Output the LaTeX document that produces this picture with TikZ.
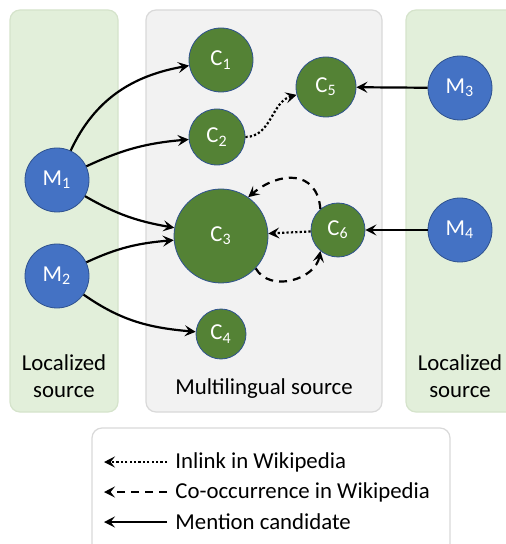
\documentclass[tikz,border=0pt]{standalone}
\usepackage{fontspec}
\setmainfont{Carlito}
\usetikzlibrary{arrows.meta}

\definecolor{mblue}{HTML}{4472C4}
\definecolor{cgreen}{HTML}{548235}
\definecolor{edgeblue}{HTML}{2F528F}
\definecolor{locfill}{HTML}{E2EFDA}
\definecolor{locline}{HTML}{D5E3CB}
\definecolor{mulfill}{HTML}{F2F2F2}
\definecolor{mulline}{HTML}{D9D9D9}

\begin{document}
\begin{tikzpicture}[x=0.5pt, y=-0.5pt, font=\fontsize{11.4}{13.5}\selectfont,
  every node/.style={inner sep=0pt},
  mention/.style={circle, draw=edgeblue, fill=mblue, text=white, minimum size=32pt},
  cand/.style={circle, draw=edgeblue, fill=cgreen, text=white},
  panel/.style={rounded corners=5pt, line width=0.6pt},
  link/.style={line width=1.1pt, -{Stealth[length=5.5pt, width=5.5pt, inset=2.2pt]}},
  inlink/.style={link, dash pattern=on 1.1pt off 1.1pt},
  cooc/.style={link, dash pattern=on 4pt off 3pt}]
  \useasboundingbox (0,0) rectangle (505,544);

  \draw[panel, draw=locline, fill=locfill] (10,10) rectangle (118,412);
  \draw[panel, draw=mulline, fill=mulfill] (146,10) rectangle (382,412);
  \draw[panel, draw=locline, fill=locfill] (406,10) rectangle (530,412);
  \draw[panel, draw=mulline, fill=white] (92,428) rectangle (450,570);

  \node[align=center] (LocLeft) at (64,376) {Localized\\source};
  \node (Multi) at (264,389) {Multilingual source};
  \node[align=center] (LocRight) at (460,376) {Localized\\source};

  \node[mention] (M1) at (57,180) {M\textsubscript{1}};
  \node[mention] (M2) at (57,276) {M\textsubscript{2}};
  \node[mention] (M3) at (460,88) {M\textsubscript{3}};
  \node[mention] (M4) at (460,230) {M\textsubscript{4}};
  \node[cand, minimum size=32pt] (C1) at (221,60) {C\textsubscript{1}};
  \node[cand, minimum size=28pt] (C2) at (217,137) {C\textsubscript{2}};
  \node[cand, minimum size=47pt] (C3) at (221,236) {C\textsubscript{3}};
  \node[cand, minimum size=25pt] (C4) at (221,334) {C\textsubscript{4}};
  \node[cand, minimum size=30pt] (C5) at (326,87) {C\textsubscript{5}};
  \node[cand, minimum size=27pt] (C6) at (338,230) {C\textsubscript{6}};

  \draw[link] (M1) to[out=65, in=190] (C1);
  \draw[link] (M1) to[out=25, in=185] (C2);
  \draw[link] (M1) to[out=-30, in=170] (C3);
  \draw[link] (M2) to[out=25, in=185] (C3);
  \draw[link] (M2) to[out=-35, in=175] (C4);
  \draw[link] (M3) -- (C5);
  \draw[link] (M4) -- (C6);
  \draw[inlink] (C2) to[out=0, in=195] (C5);
  \draw[inlink] (C6) -- (C3);
  \draw[cooc] (C6.130) to[out=95, in=40, looseness=1.4] (C3.55);
  \draw[cooc] (C3.-43) to[out=-60, in=-100, looseness=1.1] (C6.-130);

  \coordinate (InA) at (167,462);
  \coordinate (InB) at (104,462);
  \coordinate (CoA) at (167,492);
  \coordinate (CoB) at (104,492);
  \coordinate (MeA) at (167,522);
  \coordinate (MeB) at (104,522);
  \draw[inlink] (InA) -- (InB);
  \draw[cooc] (CoA) -- (CoB);
  \draw[link] (MeA) -- (MeB);
  \node[anchor=west] (InText) at (175,462) {Inlink in Wikipedia};
  \node[anchor=west] (CoText) at (175,492) {Co-occurrence in Wikipedia};
  \node[anchor=west] (MeText) at (175,522) {Mention candidate};
\end{tikzpicture}
\end{document}
